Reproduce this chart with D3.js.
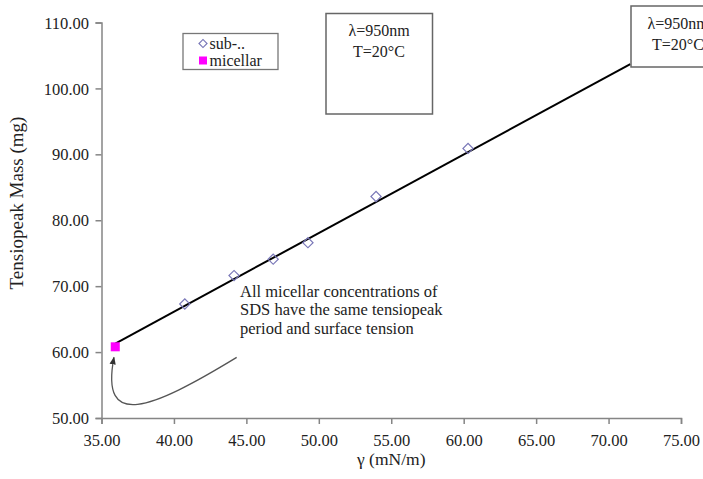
<!DOCTYPE html>
<html>
<head>
<meta charset="utf-8">
<script src="https://cdn.jsdelivr.net/npm/d3@7"></script>
<style>
  html, body { margin: 0; padding: 0; background: #fff; }
  svg text { font-family: "Liberation Serif", "Times New Roman", serif; fill: #222; }
</style>
</head>
<body>
<div id="chart"></div>
<script>
// Sub-micellar concentrations (open diamonds)
const subX = [40.75, 44.15, 46.85, 49.25, 53.95, 60.3];
const subY = [67.3, 71.6, 74.1, 76.6, 83.6, 90.9];

// Micellar concentrations (filled square)
const micX = [35.95];
const micY = [60.8];

// Fitted line (drawn from micellar point up to the annotation box)
const trendX = [35.95, 71.5];
const trendY = [61.3, 103.7];

// Axis ticks
const xTicks = [35, 40, 45, 50, 55, 60, 65, 70, 75];
const yTicks = [50, 60, 70, 80, 90, 100, 110];

// Curved arrow pointing at the micellar point: start, two control points, tip (data units)
const arrowX = [44.33, 38.35, 34.9, 35.86];
const arrowY = [59.2, 51.2, 48.2, 59.2];

const noteLines = [
  'All micellar concentrations of',
  'SDS have the same tensiopeak',
  'period and surface tension'
];

const W = 703, H = 479;

const svg = d3.select('#chart').append('svg')
  .attr('width', W)
  .attr('height', H);

const x = d3.scaleLinear().domain([35, 75]).range([101.5, 681]);
const y = d3.scaleLinear().domain([50, 110]).range([418, 22.5]);

// Axes
const xAxis = svg.append('g')
  .attr('transform', `translate(0,${y(50)})`)
  .call(d3.axisBottom(x).tickValues(xTicks).tickFormat(d3.format('.2f')).tickSizeOuter(0).tickSize(6));

const yAxis = svg.append('g')
  .attr('transform', `translate(${x(35)},0)`)
  .call(d3.axisLeft(y).tickValues(yTicks).tickFormat(d3.format('.2f')).tickSizeOuter(0).tickSize(6));

[xAxis, yAxis].forEach(a => {
  a.select('.domain').attr('stroke', '#858585').attr('stroke-width', 1.5);
  a.selectAll('.tick line').attr('stroke', '#858585').attr('stroke-width', 1.5);
  a.selectAll('.tick text')
    .style('font-family', '"Liberation Serif", serif')
    .style('font-size', '16.5px')
    .attr('fill', '#333');
});
xAxis.selectAll('.tick text').attr('dy', '1.15em');
yAxis.selectAll('.tick text').attr('x', -12.5).attr('dy', '0.34em');

// Axis titles
svg.append('text')
  .attr('x', (x(35) + x(75)) / 2)
  .attr('y', 465)
  .attr('text-anchor', 'middle')
  .style('font-size', '17.5px')
  .text('γ (mN/m)');

svg.append('text')
  .attr('transform', 'translate(23,203) rotate(-90)')
  .attr('text-anchor', 'middle')
  .style('font-size', '19px')
  .text('Tensiopeak Mass (mg)');

// Trend line
svg.append('line')
  .attr('x1', x(trendX[0])).attr('y1', y(trendY[0]))
  .attr('x2', x(trendX[1])).attr('y2', y(trendY[1]))
  .attr('stroke', '#000')
  .attr('stroke-width', 2);

// Sub-micellar diamonds
const diamond = d3.symbol().type(d3.symbolSquare).size(52)();
svg.append('g').selectAll('path')
  .data(subX.map((v, i) => [v, subY[i]]))
  .join('path')
  .attr('d', diamond)
  .attr('transform', d => `translate(${x(d[0])},${y(d[1])}) rotate(45)`)
  .attr('fill', 'none')
  .attr('stroke', '#7a78b8')
  .attr('stroke-width', 1.2);

// Micellar square
svg.append('g').selectAll('rect')
  .data(micX.map((v, i) => [v, micY[i]]))
  .join('rect')
  .attr('x', d => x(d[0]) - 4.5)
  .attr('y', d => y(d[1]) - 4.5)
  .attr('width', 9)
  .attr('height', 9)
  .attr('fill', '#ff00ff');

// Arrow
svg.append('defs').append('marker')
  .attr('id', 'head')
  .attr('viewBox', '0 0 10 10')
  .attr('refX', 9).attr('refY', 5)
  .attr('markerWidth', 6).attr('markerHeight', 6)
  .attr('orient', 'auto')
  .append('path')
  .attr('d', 'M0,1 L10,5 L0,9 Z')
  .attr('fill', '#333');

const ap = d3.path();
ap.moveTo(x(arrowX[0]), y(arrowY[0]));
ap.bezierCurveTo(x(arrowX[1]), y(arrowY[1]), x(arrowX[2]), y(arrowY[2]), x(arrowX[3]), y(arrowY[3]));

svg.append('path')
  .attr('d', ap.toString())
  .attr('fill', 'none')
  .attr('stroke', '#555')
  .attr('stroke-width', 1.3)
  .attr('marker-end', 'url(#head)');

// Annotation text
svg.append('text')
  .attr('x', 240)
  .attr('y', 297)
  .style('font-size', '16.5px')
  .selectAll('tspan')
  .data(noteLines)
  .join('tspan')
  .attr('x', 240)
  .attr('dy', (d, i) => i === 0 ? 0 : 18.3)
  .text(d => d);

// Legend
const legend = svg.append('g').attr('transform', 'translate(183,33.5)');
legend.append('rect')
  .attr('width', 95).attr('height', 36)
  .attr('fill', '#fff')
  .attr('stroke', '#777')
  .attr('stroke-width', 1.3);
legend.append('path')
  .attr('d', d3.symbol().type(d3.symbolSquare).size(32)())
  .attr('transform', 'translate(20,10) rotate(45)')
  .attr('fill', 'none')
  .attr('stroke', '#7a78b8')
  .attr('stroke-width', 1.2);
legend.append('text').attr('x', 26.5).attr('y', 15).style('font-size', '16px').text('sub-..');
legend.append('rect')
  .attr('x', 16).attr('y', 23).attr('width', 8).attr('height', 8)
  .attr('fill', '#ff00ff');
legend.append('text').attr('x', 26.5).attr('y', 32).style('font-size', '16px').text('micellar');

// Condition boxes
function condBox(bx, by, bw, bh, tx) {
  const g = svg.append('g');
  g.append('rect')
    .attr('x', bx).attr('y', by).attr('width', bw).attr('height', bh)
    .attr('fill', '#fff')
    .attr('stroke', '#666')
    .attr('stroke-width', 1.5);
  g.append('text').attr('x', tx).attr('y', by + 22.5).attr('text-anchor', 'middle')
    .style('font-size', '16px').text('λ=950nm');
  g.append('text').attr('x', tx).attr('y', by + 43.5).attr('text-anchor', 'middle')
    .style('font-size', '16px').text('T=20°C');
}
condBox(326, 13.5, 106.5, 100.5, 379);
condBox(631, 6, 94, 61, 678);
</script>
</body>
</html>
